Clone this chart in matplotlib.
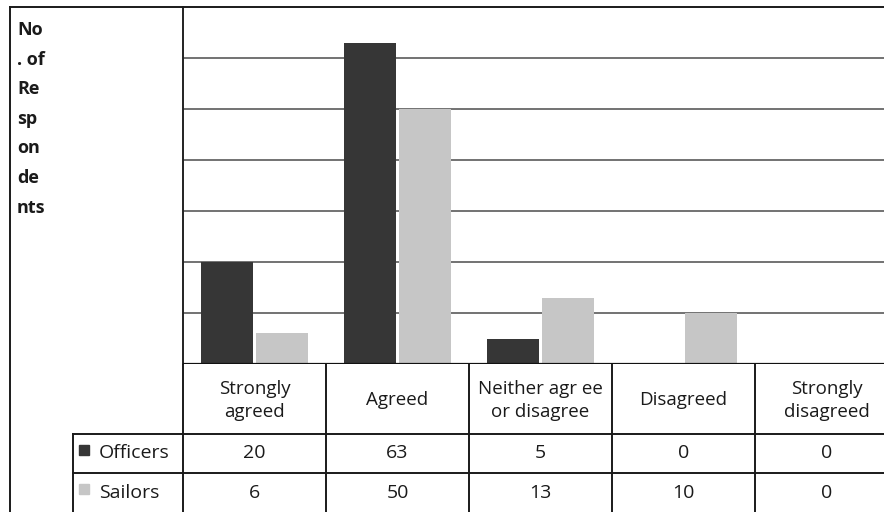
import numpy as np
import matplotlib.pyplot as plt
from matplotlib.lines import Line2D

# dados
categorias = ['Strongly\nagreed', 'Agreed', 'Neither agr ee\nor disagree', 'Disagreed', 'Strongly\ndisagreed']
series = ['Officers', 'Sailors']
officers = [20, 63, 5, 0, 0]
sailors = [6, 50, 13, 10, 0]
cores = ['#363636', '#c6c6c6']
rotulo_y = ['No', '. of', 'Re', 'sp', 'on', 'de', 'nts']

plt.rcParams['font.family'] = ['Open Sans', 'DejaVu Sans']

W, H = 884, 512
fig = plt.figure(figsize=(W / 100, H / 100), dpi=100)

# geometria em pixels
x0, y_top, y_base = 183, 7, 364
col = 143.0
x_right = W

def fx(px):
    return px / W

def fy(py):
    return 1 - py / H

# eixo do grafico
ax = fig.add_axes([fx(x0), fy(y_base), fx(x_right - x0), (y_base - y_top) / H])
x = np.arange(len(categorias))
larg = 0.37
ax.bar(x - larg / 2 - 0.007, officers, larg, color=cores[0], zorder=3)
ax.bar(x + larg / 2 + 0.007, sailors, larg, color=cores[1], zorder=3)
ax.set_xlim(-0.5, -0.5 + (x_right - x0) / col)
ax.set_ylim(0, 70)
ax.set_yticks(range(10, 70, 10))
ax.yaxis.grid(True, color='#5a5a5a', lw=1.2, zorder=1)
ax.set_xticks([])
ax.tick_params(left=False, labelleft=False)
for s in ['top', 'right', 'bottom']:
    ax.spines[s].set_visible(False)
ax.spines['left'].set_color('#222222')
ax.spines['left'].set_linewidth(1.4)
ax.axhline(0, color='#111111', lw=1.6, zorder=4)

# tabela de dados embaixo
tax = fig.add_axes([0, 0, 1, (H - y_base) / H])
tax.set_xlim(-0.5 - x0 / col, -0.5 + (x_right - x0) / col)
h_cab = 70 / 39.0
tax.set_ylim(0, 2 + h_cab)
tax.axis('off')

lw = 1.4
cor_linha = '#1a1a1a'
x_leg = -0.5 - (x0 - 73) / col
xmax = -0.5 + (x_right - x0) / col
# linhas horizontais
tax.plot([x_leg, xmax], [2, 2], color=cor_linha, lw=lw)
tax.plot([x_leg, xmax], [1, 1], color=cor_linha, lw=lw)
# linhas verticais
for i in range(len(categorias)):
    tax.plot([i + 0.5, i + 0.5], [0, 2 + h_cab], color=cor_linha, lw=lw)
tax.plot([-0.5, -0.5], [0, 2 + h_cab], color=cor_linha, lw=lw)
tax.plot([x_leg, x_leg], [0, 2], color=cor_linha, lw=lw)

for i, c in enumerate(categorias):
    tax.text(i, 2 + h_cab / 2 - 0.03, c, ha='center', va='center', fontsize=13.5,
             color='#1a1a1a', linespacing=1.35)

for r, (nome, vals, cor) in enumerate(zip(series, [officers, sailors], cores)):
    yc = 1.5 - r
    tax.plot(x_leg + 0.08, yc + 0.1, marker='s', ms=7, color=cor, mec=cor)
    tax.text(x_leg + 0.18, yc, nome, ha='left', va='center', fontsize=14, color='#1a1a1a')
    for i, v in enumerate(vals):
        tax.text(i, yc, str(v), ha='center', va='center', fontsize=14, color='#1a1a1a')

# moldura externa
fig.add_artist(Line2D([fx(10), fx(10)], [fy(7), fy(H)], color=cor_linha, lw=lw))
fig.add_artist(Line2D([fx(10), fx(W)], [fy(7), fy(7)], color=cor_linha, lw=lw))

# rotulo do eixo y quebrado em linhas
for k, t in enumerate(rotulo_y):
    fig.text(fx(17), fy(30 + 29.6 * k), t, ha='left', va='center', fontsize=13,
             fontweight='bold', color='#1a1a1a')

plt.savefig('out.png', dpi=100)
